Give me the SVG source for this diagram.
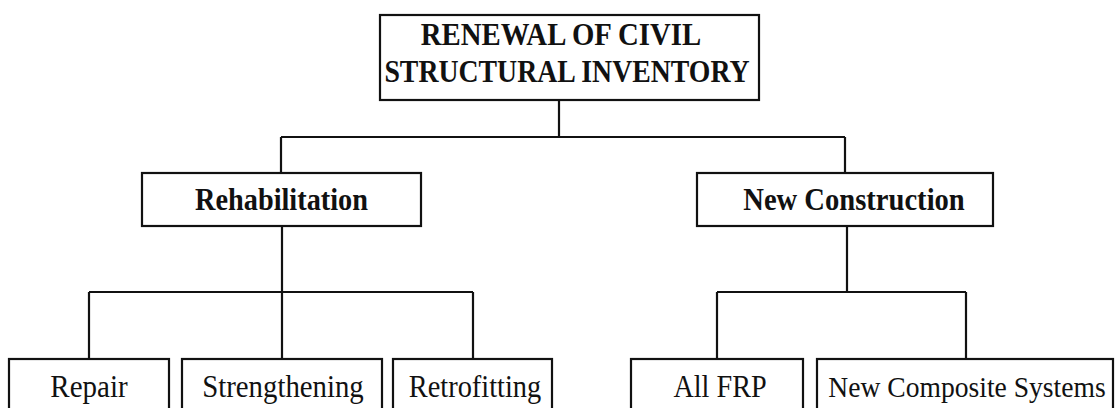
<svg xmlns="http://www.w3.org/2000/svg" width="1119" height="408" viewBox="0 0 1119 408">
<style>
.box{fill:#fff;stroke:#111;stroke-width:2.2}
.con{fill:none;stroke:#111;stroke-width:2.2}
.t{font-family:"Liberation Serif","Times New Roman",serif;fill:#111;text-anchor:middle}
.b{font-weight:bold}
</style>
<rect width="1119" height="408" fill="#fff"/>
<g id="connectors">
<path class="con" d="M559 100V137M281 137H845M281 137V173M845 137V173"/>
<path class="con" d="M282 226V292M89 292H473M89 292V359M282 292V359M473 292V359"/>
<path class="con" d="M847 226V292M717 292H966M717 292V359M966 292V359"/>
</g>
<g id="root">
<rect class="box" x="380" y="15" width="379" height="85"/>
<text class="t b" transform="translate(561 45) scale(1 1.12)" font-size="28.8">RENEWAL OF CIVIL</text>
<text class="t b" transform="translate(567 82) scale(1 1.12)" font-size="27.8">STRUCTURAL INVENTORY</text>
</g>
<g id="rehabilitation">
<rect class="box" x="142" y="173" width="279" height="53"/>
<text class="t b" transform="translate(281.5 210) scale(1 1.1)" font-size="28.3">Rehabilitation</text>
</g>
<g id="new-construction">
<rect class="box" x="697" y="173" width="296" height="53"/>
<text class="t b" transform="translate(854 210) scale(1 1.1)" font-size="28.6">New Construction</text>
</g>
<g id="repair">
<rect class="box" x="9" y="359" width="160" height="60"/>
<text class="t" transform="translate(89 397) scale(1 1.1)" font-size="29">Repair</text>
</g>
<g id="strengthening">
<rect class="box" x="182" y="359" width="200" height="60"/>
<text class="t" transform="translate(283 397) scale(1 1.1)" font-size="28.8">Strengthening</text>
</g>
<g id="retrofitting">
<rect class="box" x="393" y="359" width="159" height="60"/>
<text class="t" transform="translate(475 397) scale(1 1.1)" font-size="28.4">Retrofitting</text>
</g>
<g id="all-frp">
<rect class="box" x="631" y="359" width="172" height="60"/>
<text class="t" transform="translate(720 397) scale(1 1.1)" font-size="28.2">All FRP</text>
</g>
<g id="new-composite-systems">
<rect class="box" x="817" y="359" width="296" height="60"/>
<text class="t" transform="translate(967 397) scale(1 1.1)" font-size="27.6">New Composite Systems</text>
</g>
</svg>
